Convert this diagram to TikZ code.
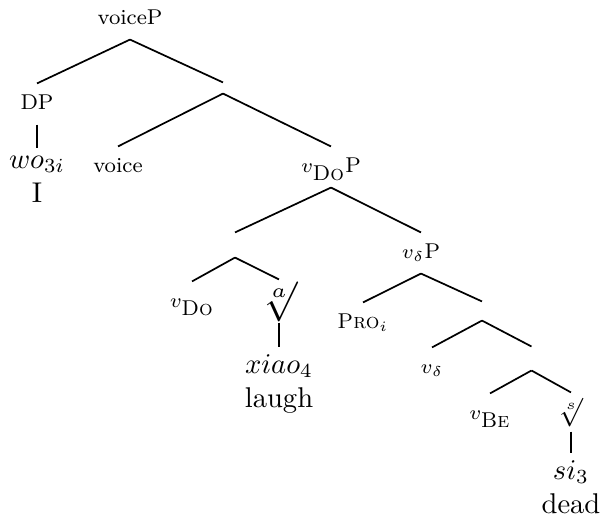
\documentclass[tikz,border=0pt]{standalone}
\usepackage{amsmath}
\usepackage{tikz}
\tikzset{%
  x=0.35pt, y=-0.35pt,  % one unit is one pixel of the scan
  cat/.style={          % category labels
    font=\fontsize{7.5}{9}\selectfont,
    inner sep=0pt,
    minimum height=14pt,
    text height=5.5pt,
    text depth=1.5pt},
  rootsign/.style={
    inner sep=0pt,
    minimum height=#1},
  leaf/.style={         % word and its gloss
    align=center,
    anchor=north,
    inner sep=2.5pt},
  barnode/.style={      % unlabelled branching point
    inner sep=0pt,
    minimum width=0pt,
    minimum height=#1},
  every edge/.style={
    draw,
    semithick} %
}
\newcommand{\flav}[1]{\mbox{\textsc{#1}}}

\begin{document}
\begin{tikzpicture}
    \useasboundingbox (0,0) rectangle (602,523);

    \node[cat] (voiceP) at (130,19) {voiceP};
    \node[cat] (DP) at (37,104) {DP};
    \node[leaf] (wo) at (37,148) {$wo_{3i}$\\I};
    \node[barnode=3.5pt] (bar1) at (223,88) {};
    \node[cat] (voice) at (118,167) {voice};
    \node[cat] (vDoP) at (331,167) {$v_{\flav{Do}}$P};

    \node[barnode=8.4pt] (bar2) at (235,245) {};
    \node[cat] (vDo) at (192,302) {$v_{\flav{Do}}$};
    \node[rootsign=14.7pt] (rtA) at (279,301) {\scalebox{1.4}{$\sqrt[a]{\vphantom{l}}$}};
    \node[leaf] (xiao) at (279,347) {$xiao_4$\\laugh};

    \node[cat] (vdP) at (421,253) {$v_\delta$P};
    \node[cat] (PRO) at (363,323) {\textsc{Pro}$_i$};
    \node[barnode=6.3pt] (bar3) at (482,311) {};
    \node[cat] (vd) at (432,368) {$v_\delta$};
    \node[barnode=8pt] (bar4) at (531.5,358.5) {};
    \node[cat] (vBe) at (490,414) {$v_{\flav{Be}}$};
    \node[rootsign=13.3pt] (rtS) at (571,412) {$\sqrt[s]{\vphantom{l}}$};
    \node[leaf] (si) at (571,453) {$si_3$\\dead};

    \draw
      (voiceP.south) edge (DP.north)
      (voiceP.south) edge (bar1.north)
      (DP.south) edge (wo.north)
      (bar1.south) edge (voice.north)
      (bar1.south) edge (vDoP.north)
      (vDoP.south) edge (bar2.north)
      (vDoP.south) edge (vdP.north)
      (bar2.south) edge (vDo.north)
      (bar2.south) edge (rtA.north)
      (rtA.south) edge (xiao.north)
      (vdP.south) edge (PRO.north)
      (vdP.south) edge (bar3.north)
      (bar3.south) edge (vd.north)
      (bar3.south) edge (bar4.north)
      (bar4.south) edge (vBe.north)
      (bar4.south) edge (rtS.north)
      (rtS.south) edge (si.north)
    ;

\end{tikzpicture}
\end{document}
